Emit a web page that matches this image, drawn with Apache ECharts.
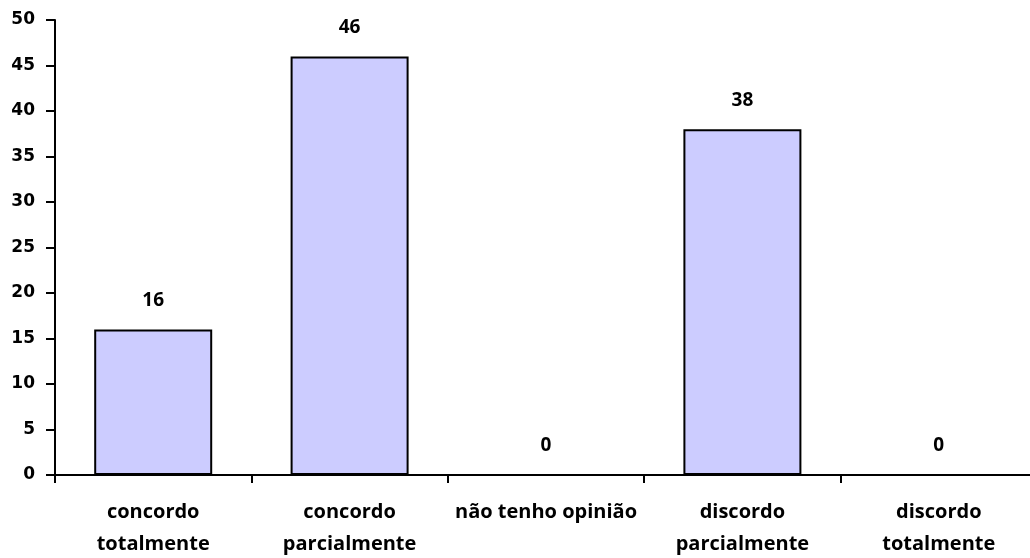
<!DOCTYPE html>
<html>
<head>
<meta charset="utf-8">
<script src="https://cdn.jsdelivr.net/npm/echarts@6/dist/echarts.min.js"></script>
<style>
  html, body { margin: 0; padding: 0; background: #ffffff; }
  #chart { width: 1030px; height: 558px; }
</style>
</head>
<body>
<div id="chart"></div>
<script>
// Respostas por categoria
const categories = [
  'concordo\ntotalmente',
  'concordo\nparcialmente',
  'não tenho opinião',
  'discordo\nparcialmente',
  'discordo\ntotalmente'
];
const values = [16, 46, 0, 38, 0];
const yTicks = { min: 0, max: 50, interval: 5 };

const chart = echarts.init(document.getElementById('chart'));
chart.setOption({
  animation: false,
  backgroundColor: '#ffffff',
  grid: {
    left: 55, right: -7, top: 20, bottom: 83,
    containLabel: false,
    outerBoundsMode: 'none'
  },
  xAxis: {
    type: 'category',
    data: categories,
    axisLine: { lineStyle: { color: '#000', width: 2 } },
    axisTick: { show: true, length: 8, lineStyle: { color: '#000', width: 2 } },
    axisLabel: {
      color: '#000',
      fontFamily: 'Open Sans',
      fontWeight: 'bold',
      fontSize: 20,
      lineHeight: 32,
      margin: 21,
      interval: 0
    }
  },
  yAxis: {
    type: 'value',
    min: yTicks.min,
    max: yTicks.max,
    interval: yTicks.interval,
    splitLine: { show: false },
    axisLine: { show: true, lineStyle: { color: '#000', width: 2 } },
    axisTick: { show: true, length: 9, lineStyle: { color: '#000', width: 2 } },
    axisLabel: {
      color: '#000',
      fontFamily: 'DejaVu Sans',
      fontWeight: 'bold',
      fontSize: 17,
      margin: 20
    }
  },
  series: [{
    type: 'bar',
    data: values,
    barWidth: 118,
    itemStyle: { color: '#ccccff', borderColor: '#000', borderWidth: 2 },
    label: {
      show: true,
      position: 'top',
      distance: 19,
      color: '#000',
      fontFamily: 'Open Sans',
      fontWeight: 'bold',
      fontSize: 19
    }
  }]
});
</script>
</body>
</html>
